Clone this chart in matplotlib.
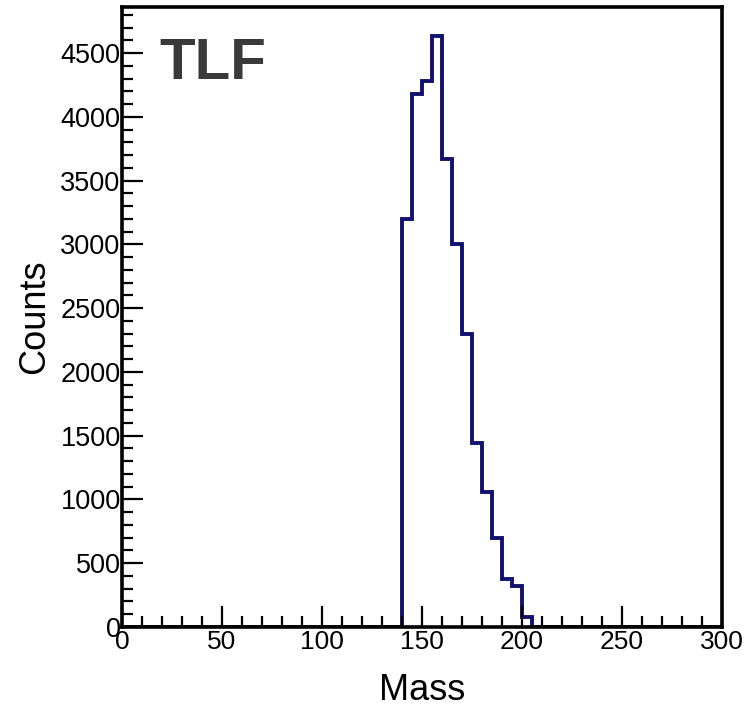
import numpy as np
import matplotlib.pyplot as plt
from matplotlib.ticker import MultipleLocator

# histogram: 60 bins of width 5 over [0, 300]
bin_width = 5
mass_min, mass_max = 0, 300
first_filled = 140   # left edge of first non-empty bin
filled_counts = [3200, 4180, 4280, 4630, 3670, 3000, 2300,
                 1440, 1055, 700, 375, 320, 80]

edges = np.arange(mass_min, mass_max + bin_width, bin_width)
counts = np.zeros(len(edges) - 1)
start = (first_filled - mass_min) // bin_width
counts[start:start + len(filled_counts)] = filled_counts

plt.rcParams['font.family'] = ['Liberation Sans', 'DejaVu Sans']

fig = plt.figure(figsize=(7.56, 7.07), dpi=100)
ax = fig.add_axes([0.1614, 0.1132, 0.7937, 0.877])

ax.stairs(counts, edges, color='#12126e', linewidth=2.8)

ax.set_xlim(mass_min, mass_max)
ax.set_ylim(0, max(filled_counts) * 1.05)

ax.xaxis.set_major_locator(MultipleLocator(50))
ax.xaxis.set_minor_locator(MultipleLocator(10))
ax.yaxis.set_major_locator(MultipleLocator(500))
ax.yaxis.set_minor_locator(MultipleLocator(100))

ax.tick_params(which='both', direction='in', top=False, right=False, width=1.6, color='black')
ax.tick_params(which='major', length=15)
ax.tick_params(which='minor', length=8)
ax.tick_params(axis='x', labelsize=19, pad=2)
ax.tick_params(axis='y', labelsize=19.5, pad=1)

for s in ax.spines.values():
    s.set_linewidth(2.6)

ax.set_xlabel('Mass', fontsize=26)
ax.set_ylabel('Counts', fontsize=26)
ax.xaxis.set_label_coords(0.5, -0.075)
ax.yaxis.set_label_coords(-0.117, 0.5)

ax.text(0.063, 0.952, 'TLF', transform=ax.transAxes, fontsize=42,
        fontweight='bold', color='#3a3a3a', va='top', ha='left')

fig.savefig('out.png', dpi=100)
